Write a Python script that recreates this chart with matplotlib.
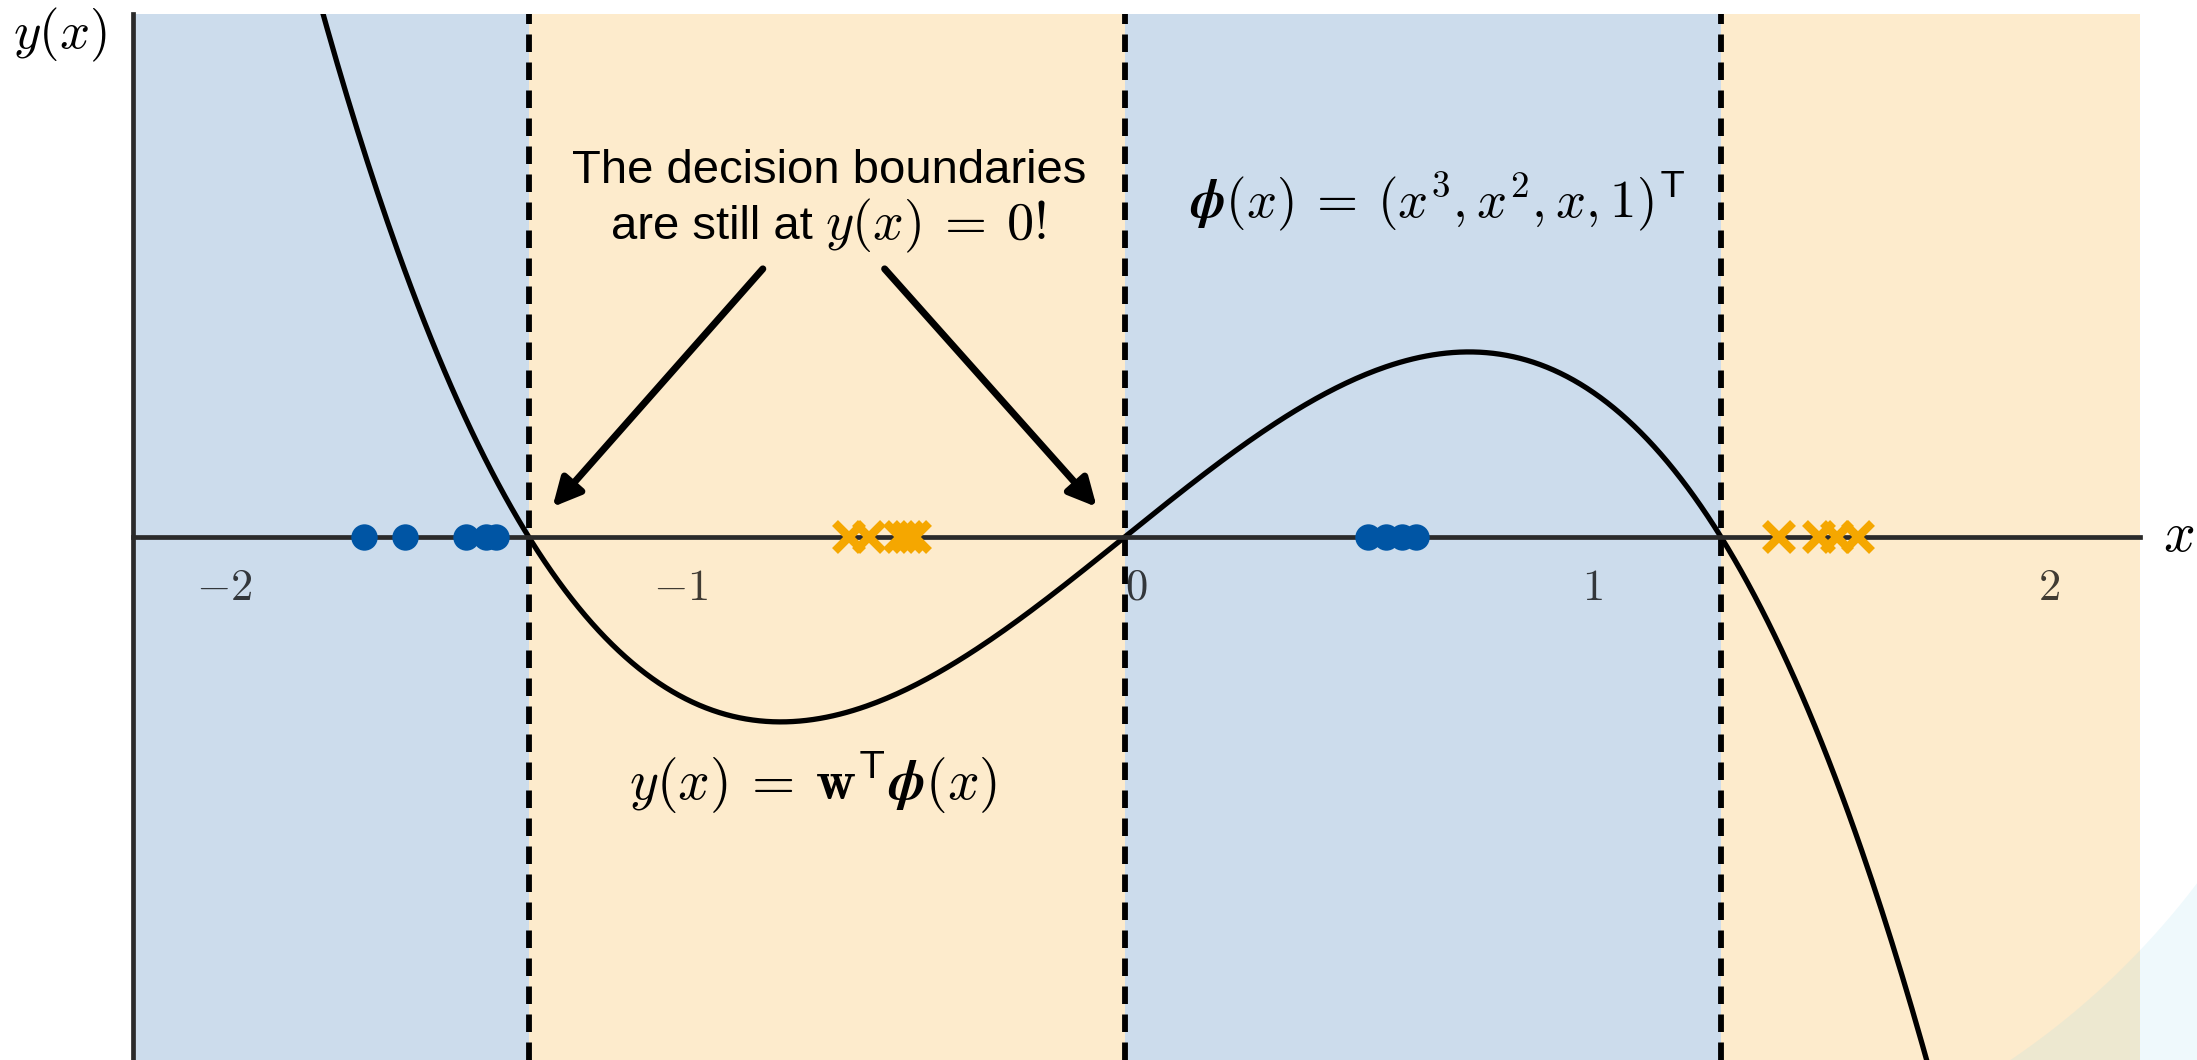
import numpy as np
import matplotlib
matplotlib.use("Agg")
import matplotlib.pyplot as plt
from matplotlib.patches import Polygon

plt.rcParams['font.family'] = ['Liberation Sans', 'DejaVu Sans']
plt.rcParams['mathtext.fontset'] = 'cm'

# weights for phi(x) = (x^3, x^2, x, 1)
w = [-1.235, -0.094, 2.107, 0.054]

# class 1 (dots) and class 2 (crosses) on the x axis
blue_x = [-1.694, -1.603, -1.469, -1.425, -1.405, 0.507, 0.547, 0.583, 0.612]
orange_x = [-0.630, -0.586, -0.519, -0.501, -0.486, 1.409, 1.497, 1.535, 1.583]

xticks = [-2, -1, 0, 1, 2]
xticklabels = ['$-2$', '$-1$', '$0$', '$1$', '$2$']

BLUE_BG = '#ccdcec'
ORANGE_BG = '#fdebcc'
BLUE = '#0055a4'
ORANGE = '#f5a700'
XMIN, XMAX = -2.2, 2.2


def main():
	fig = plt.figure(figsize=(21.97, 10.60), dpi=100)
	ax = fig.add_axes([0.0605, 0.0, 0.9135, 0.9868])
	ax.set_xlim(XMIN, XMAX)
	ax.set_ylim(-3, 3)

	# decision boundaries = real roots of y(x)
	roots = np.sort(np.roots(w).real)
	edges = [XMIN] + list(roots) + [XMAX]
	for i in range(len(edges) - 1):
		ax.axvspan(edges[i], edges[i + 1], color=BLUE_BG if i % 2 == 0 else ORANGE_BG, lw=0, zorder=0)
	for r in roots:
		ax.axvline(r, color='black', lw=4.2, linestyle=(0, (3.0, 1.8)), zorder=2)

	xs = np.linspace(XMIN, XMAX, 600)
	ax.plot(xs, np.polyval(w, xs), color='black', lw=3.8, zorder=3)

	ax.plot(blue_x, np.zeros(len(blue_x)), 'o', color=BLUE, ms=19, mew=0, zorder=5, clip_on=False)
	ax.plot(orange_x, np.zeros(len(orange_x)), 'x', color=ORANGE, ms=20, mew=6, zorder=5, clip_on=False)

	# axes: x axis through y=0, y axis on the left
	for s in ['top', 'right']:
		ax.spines[s].set_visible(False)
	ax.spines['bottom'].set_position(('data', 0))
	for s in ['bottom', 'left']:
		ax.spines[s].set_color('#2a2a2a')
		ax.spines[s].set_linewidth(3.4)
		ax.spines[s].set_zorder(4)
	ax.set_yticks([])
	ax.set_xticks(xticks)
	ax.set_xticklabels(xticklabels)
	ax.tick_params(axis='x', length=0, pad=22, labelsize=32, labelcolor=(0, 0, 0, 0.75))

	ax.text(2.284, 0, '$x$', fontsize=40, ha='center', va='center', clip_on=False)
	ax.text(-2.36, 2.88, '$y(x)$', fontsize=38, ha='center', va='center', clip_on=False)

	# two-line note, second line mixes sans text and a larger formula
	ax.text(-0.674, 2.033, 'The decision boundaries', fontsize=34, ha='center', va='baseline', zorder=6)
	renderer = fig.canvas.get_renderer()
	part_a = 'are still at'
	part_b = r'$y(x) \:=\: 0!$'
	ta = ax.text(0, 0, part_a, fontsize=34)
	tb = ax.text(0, 0, part_b, fontsize=39)
	wa = ta.get_window_extent(renderer).width
	wb = tb.get_window_extent(renderer).width
	ta.remove()
	tb.remove()
	gap = 12
	left = -(wa + gap + wb) / 2
	px2pt = 72.0 / fig.dpi
	ax.annotate(part_a, xy=(-0.674, 1.708), xytext=(left * px2pt, 0), textcoords='offset points',
		fontsize=34, ha='left', va='baseline', zorder=6)
	ax.annotate(part_b, xy=(-0.674, 1.708), xytext=((left + wa + gap) * px2pt, 0), textcoords='offset points',
		fontsize=39, ha='left', va='baseline', zorder=6)

	arrow = dict(arrowstyle='-|>', lw=5, color='black', mutation_scale=42, shrinkA=0, shrinkB=0)
	ax.annotate('', xy=(-1.280, 0.172), xytext=(-0.819, 1.538), arrowprops=arrow, zorder=6)
	ax.annotate('', xy=(-0.087, 0.172), xytext=(-0.552, 1.538), arrowprops=arrow, zorder=6)

	ax.text(0.661, 1.830, r'$\boldsymbol{\phi}(x) \:=\: (x^3, x^2, x, 1)^\mathsf{T}$', fontsize=38, ha='center', va='baseline', zorder=6)
	ax.text(-0.708, -1.509, r'$y(x) \:=\: \mathbf{w}^\mathsf{T}\boldsymbol{\phi}(x)$', fontsize=40, ha='center', va='baseline', zorder=6)

	# pale corner shape in the bottom right
	W, H = 2197.0, 1060.0
	cx, cy, rad = 1567.0, 405.0, 791.0
	a0 = np.arctan2(1060 - cy, 2010 - cx)
	a1 = np.arctan2(883 - cy, W - cx)
	ang = np.linspace(a0, a1, 80)
	px = cx + rad * np.cos(ang)
	py = cy + rad * np.sin(ang)
	pts = [(x / W, 1 - y / H) for x, y in zip(px, py)] + [(1.0, 0.0)]
	fig.patches.append(Polygon(pts, closed=True, transform=fig.transFigure, facecolor='#94d7eb', alpha=0.15, lw=0, zorder=10))

	fig.savefig('out.png', dpi=100)


if __name__ == "__main__":
	main()
